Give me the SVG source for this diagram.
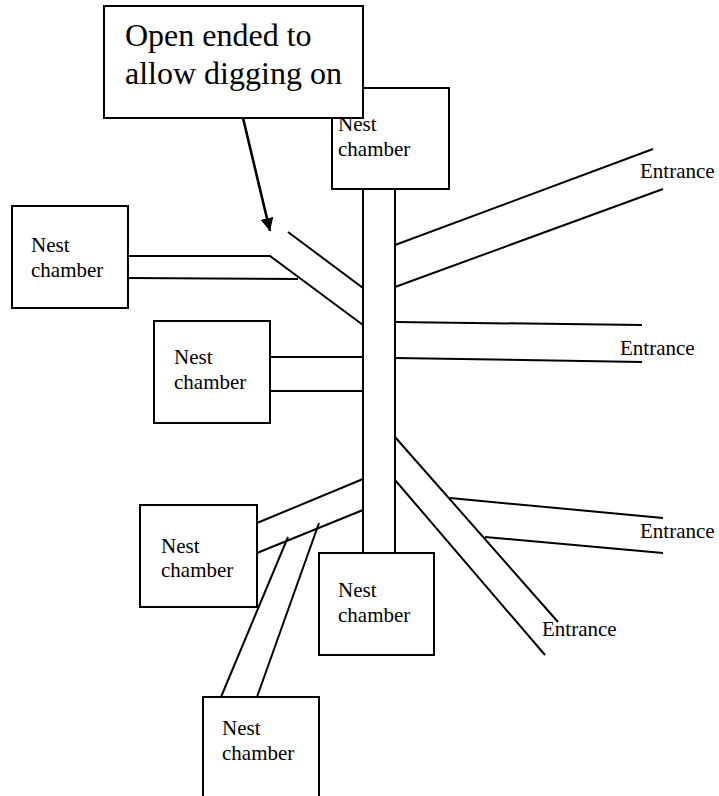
<svg xmlns="http://www.w3.org/2000/svg" width="719" height="796" viewBox="0 0 719 796">
<style>
.box{fill:#fff;stroke:#000;stroke-width:2}
.ln{stroke:#000;stroke-width:2;fill:none;stroke-linecap:butt}
.lbl{font-family:"Liberation Serif","Times New Roman",serif;font-size:21px;fill:#000}
.big{font-family:"Liberation Serif","Times New Roman",serif;font-size:32px;fill:#000}
</style>
<defs>
<marker id="ah" viewBox="0 0 10 10" refX="10" refY="5" markerWidth="5" markerHeight="5" orient="auto" markerUnits="strokeWidth">
<path d="M0,0 L10,5 L0,10 Z" fill="#000"/>
</marker>
</defs>
<rect width="719" height="796" fill="#fff"/>
<g id="connectors">
<line class="ln" x1="363" y1="189" x2="363" y2="553"/>
<line class="ln" x1="395" y1="189" x2="395" y2="553"/>
<polyline class="ln" points="128,256 270,256 363,325"/>
<line class="ln" x1="128" y1="278" x2="298" y2="279"/>
<line class="ln" x1="288" y1="232" x2="363" y2="288"/>
<line class="ln" x1="270" y1="357" x2="363" y2="357"/>
<line class="ln" x1="270" y1="391" x2="363" y2="391"/>
<line class="ln" x1="257" y1="523" x2="363" y2="479"/>
<line class="ln" x1="257" y1="553" x2="363" y2="510"/>
<line class="ln" x1="288" y1="537" x2="221" y2="697"/>
<line class="ln" x1="319" y1="523" x2="257" y2="697"/>
<line class="ln" x1="395" y1="245" x2="653" y2="149"/>
<line class="ln" x1="395" y1="287" x2="663" y2="189"/>
<line class="ln" x1="395" y1="322" x2="642" y2="325"/>
<line class="ln" x1="395" y1="358" x2="642" y2="362"/>
<line class="ln" x1="395" y1="437" x2="558" y2="622"/>
<line class="ln" x1="395" y1="480" x2="545" y2="655"/>
<line class="ln" x1="450" y1="498" x2="663" y2="518"/>
<line class="ln" x1="485" y1="537" x2="663" y2="553"/>
<line x1="243" y1="118" x2="270" y2="231" stroke="#000" stroke-width="2.6" marker-end="url(#ah)"/>
</g>
<g id="chamber-top">
<rect class="box" x="332" y="88" width="117" height="101"/>
<text class="lbl" x="338" y="131">Nest</text>
<text class="lbl" x="338" y="156">chamber</text>
</g>
<g id="chamber-left1">
<rect class="box" x="12" y="206" width="116" height="102"/>
<text class="lbl" x="31" y="252">Nest</text>
<text class="lbl" x="31" y="277">chamber</text>
</g>
<g id="chamber-left2">
<rect class="box" x="154" y="321" width="116" height="102"/>
<text class="lbl" x="174" y="364">Nest</text>
<text class="lbl" x="174" y="389">chamber</text>
</g>
<g id="chamber-left3">
<rect class="box" x="140" y="505" width="117" height="102"/>
<text class="lbl" x="161" y="553">Nest</text>
<text class="lbl" x="161" y="577">chamber</text>
</g>
<g id="chamber-bottom">
<rect class="box" x="319" y="553" width="115" height="102"/>
<text class="lbl" x="338" y="597">Nest</text>
<text class="lbl" x="338" y="622">chamber</text>
</g>
<g id="chamber-lowest">
<rect class="box" x="203" y="697" width="116" height="102"/>
<text class="lbl" x="222" y="735">Nest</text>
<text class="lbl" x="222" y="760">chamber</text>
</g>
<g id="entrance-labels">
<text class="lbl" x="640" y="178">Entrance</text>
<text class="lbl" x="620" y="355">Entrance</text>
<text class="lbl" x="640" y="538">Entrance</text>
<text class="lbl" x="542" y="636">Entrance</text>
</g>
<g id="callout">
<rect class="box" x="104" y="6" width="259" height="112"/>
<text class="big" x="125" y="46">Open ended to</text>
<text class="big" x="125" y="84">allow digging on</text>
</g>
</svg>
